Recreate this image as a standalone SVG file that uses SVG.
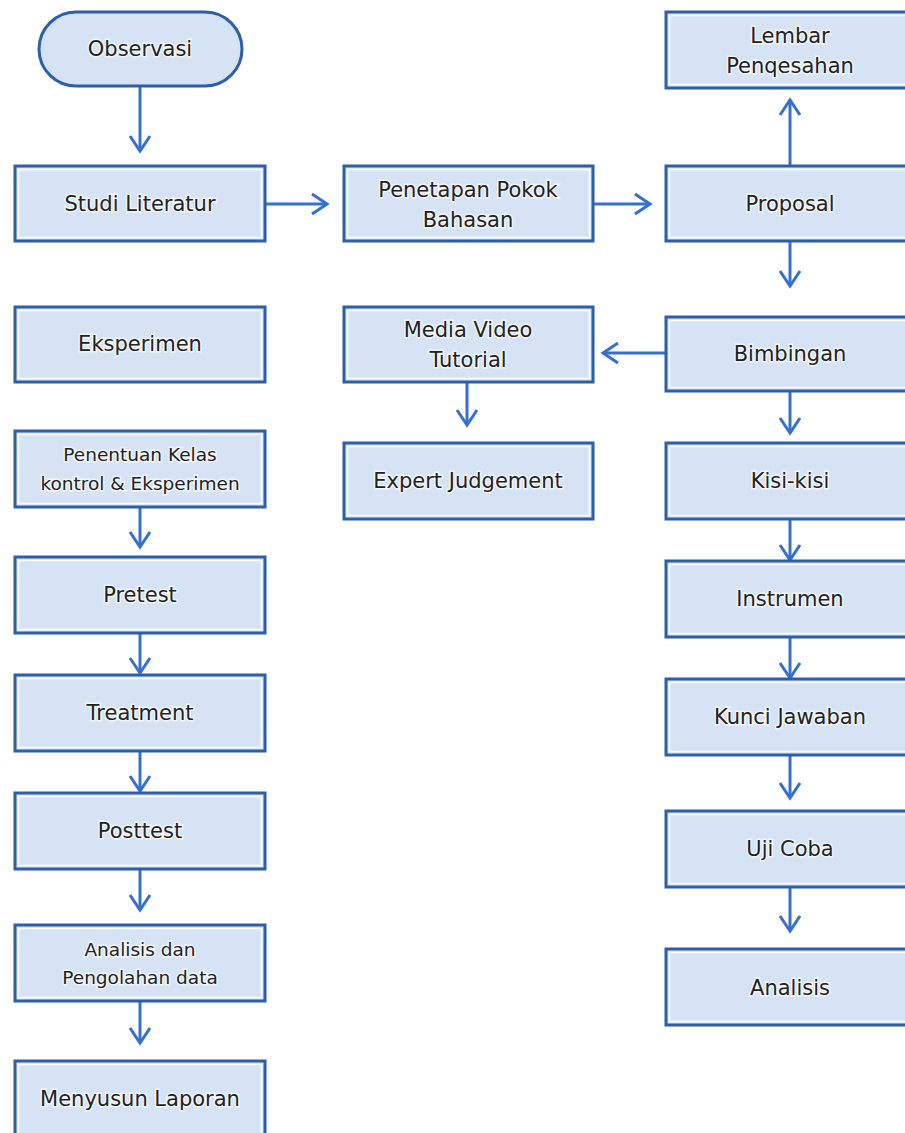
<svg xmlns="http://www.w3.org/2000/svg" width="905" height="1133" viewBox="0 0 905 1133">
<style>
.box{fill:#d6e3f5;stroke:#2c5fa8;stroke-width:3}
.inner{fill:none;stroke:#ffffff;stroke-width:1.5}
.t{font-family:"DejaVu Sans",Verdana,sans-serif;font-size:21px;fill:#222;text-anchor:middle;stroke:#ffffff;stroke-width:3;stroke-opacity:0.7;paint-order:stroke}
.s{font-size:18.5px}
.c{fill:none;stroke:#3570cf;stroke-width:3;marker-end:url(#ah)}
</style>
<defs>
<marker id="ah" markerUnits="userSpaceOnUse" viewBox="-19 -13 22 26" refX="0" refY="0" markerWidth="22" markerHeight="26" orient="auto">
<path d="M-15,-10 L0,0 L-15,10" fill="none" stroke="#3570cf" stroke-width="3"/>
</marker>
</defs>
<rect width="905" height="1133" fill="#ffffff"/>
<g id="connectors">
<line class="c" x1="140" y1="86" x2="140" y2="151"/>
<line class="c" x1="266" y1="204" x2="327" y2="204"/>
<line class="c" x1="594" y1="204" x2="650" y2="204"/>
<line class="c" x1="790" y1="165" x2="790" y2="100"/>
<line class="c" x1="790" y1="242" x2="790" y2="286"/>
<line class="c" x1="665" y1="353" x2="603" y2="353"/>
<line class="c" x1="467" y1="383" x2="467" y2="425"/>
<line class="c" x1="790" y1="391" x2="790" y2="433"/>
<line class="c" x1="790" y1="519" x2="790" y2="560"/>
<line class="c" x1="790" y1="637" x2="790" y2="678"/>
<line class="c" x1="790" y1="755" x2="790" y2="798"/>
<line class="c" x1="790" y1="887" x2="790" y2="931"/>
<line class="c" x1="140" y1="507" x2="140" y2="547"/>
<line class="c" x1="140" y1="633" x2="140" y2="673"/>
<line class="c" x1="140" y1="751" x2="140" y2="791"/>
<line class="c" x1="140" y1="869" x2="140" y2="910"/>
<line class="c" x1="140" y1="1001" x2="140" y2="1043"/>
</g>
<g id="observasi">
<rect class="box" x="39" y="12" width="203" height="74" rx="37"/>
<text class="t" x="140" y="56">Observasi</text>
</g>
<g id="studi-literatur">
<rect class="box" x="15" y="166" width="250" height="75"/><rect class="inner" x="18.5" y="169.5" width="243" height="68"/>
<text class="t" x="140" y="211">Studi Literatur</text>
</g>
<g id="penetapan">
<rect class="box" x="344" y="166" width="249" height="75"/><rect class="inner" x="347.5" y="169.5" width="242" height="68"/>
<text class="t" x="468" y="197">Penetapan Pokok</text>
<text class="t" x="468" y="227">Bahasan</text>
</g>
<g id="proposal">
<rect class="box" x="666" y="166" width="250" height="75"/><rect class="inner" x="669.5" y="169.5" width="243" height="68"/>
<text class="t" x="790" y="211">Proposal</text>
</g>
<g id="lembar">
<rect class="box" x="666" y="12" width="250" height="76"/><rect class="inner" x="669.5" y="15.5" width="243" height="69"/>
<text class="t" x="790" y="43">Lembar</text>
<text class="t" x="790" y="73">Penqesahan</text>
</g>
<g id="eksperimen">
<rect class="box" x="15" y="307" width="250" height="75"/><rect class="inner" x="18.5" y="310.5" width="243" height="68"/>
<text class="t" x="140" y="351">Eksperimen</text>
</g>
<g id="media">
<rect class="box" x="344" y="307" width="249" height="75"/><rect class="inner" x="347.5" y="310.5" width="242" height="68"/>
<text class="t" x="468" y="337">Media Video</text>
<text class="t" x="468" y="367">Tutorial</text>
</g>
<g id="bimbingan">
<rect class="box" x="666" y="317" width="250" height="74"/><rect class="inner" x="669.5" y="320.5" width="243" height="67"/>
<text class="t" x="790" y="361">Bimbingan</text>
</g>
<g id="expert">
<rect class="box" x="344" y="443" width="249" height="76"/><rect class="inner" x="347.5" y="446.5" width="242" height="69"/>
<text class="t" x="468" y="488">Expert Judgement</text>
</g>
<g id="kisi">
<rect class="box" x="666" y="443" width="250" height="76"/><rect class="inner" x="669.5" y="446.5" width="243" height="69"/>
<text class="t" x="790" y="488">Kisi-kisi</text>
</g>
<g id="penentuan">
<rect class="box" x="15" y="431" width="250" height="76"/><rect class="inner" x="18.5" y="434.5" width="243" height="69"/>
<text class="t s" x="140" y="461">Penentuan Kelas</text>
<text class="t s" x="140" y="490">kontrol &amp; Eksperimen</text>
</g>
<g id="pretest">
<rect class="box" x="15" y="557" width="250" height="76"/><rect class="inner" x="18.5" y="560.5" width="243" height="69"/>
<text class="t" x="140" y="602">Pretest</text>
</g>
<g id="instrumen">
<rect class="box" x="666" y="561" width="250" height="76"/><rect class="inner" x="669.5" y="564.5" width="243" height="69"/>
<text class="t" x="790" y="606">Instrumen</text>
</g>
<g id="treatment">
<rect class="box" x="15" y="675" width="250" height="76"/><rect class="inner" x="18.5" y="678.5" width="243" height="69"/>
<text class="t" x="140" y="720">Treatment</text>
</g>
<g id="kunci">
<rect class="box" x="666" y="679" width="250" height="76"/><rect class="inner" x="669.5" y="682.5" width="243" height="69"/>
<text class="t" x="790" y="724">Kunci Jawaban</text>
</g>
<g id="posttest">
<rect class="box" x="15" y="793" width="250" height="76"/><rect class="inner" x="18.5" y="796.5" width="243" height="69"/>
<text class="t" x="140" y="838">Posttest</text>
</g>
<g id="uji">
<rect class="box" x="666" y="811" width="250" height="76"/><rect class="inner" x="669.5" y="814.5" width="243" height="69"/>
<text class="t" x="790" y="856">Uji Coba</text>
</g>
<g id="analisis-data">
<rect class="box" x="15" y="925" width="250" height="76"/><rect class="inner" x="18.5" y="928.5" width="243" height="69"/>
<text class="t s" x="140" y="956">Analisis dan</text>
<text class="t s" x="140" y="984">Pengolahan data</text>
</g>
<g id="analisis">
<rect class="box" x="666" y="949" width="250" height="76"/><rect class="inner" x="669.5" y="952.5" width="243" height="69"/>
<text class="t" x="790" y="995">Analisis</text>
</g>
<g id="menyusun">
<rect class="box" x="15" y="1061" width="250" height="80"/><rect class="inner" x="18.5" y="1064.5" width="243" height="73"/>
<text class="t" x="140" y="1106">Menyusun Laporan</text>
</g>
</svg>
